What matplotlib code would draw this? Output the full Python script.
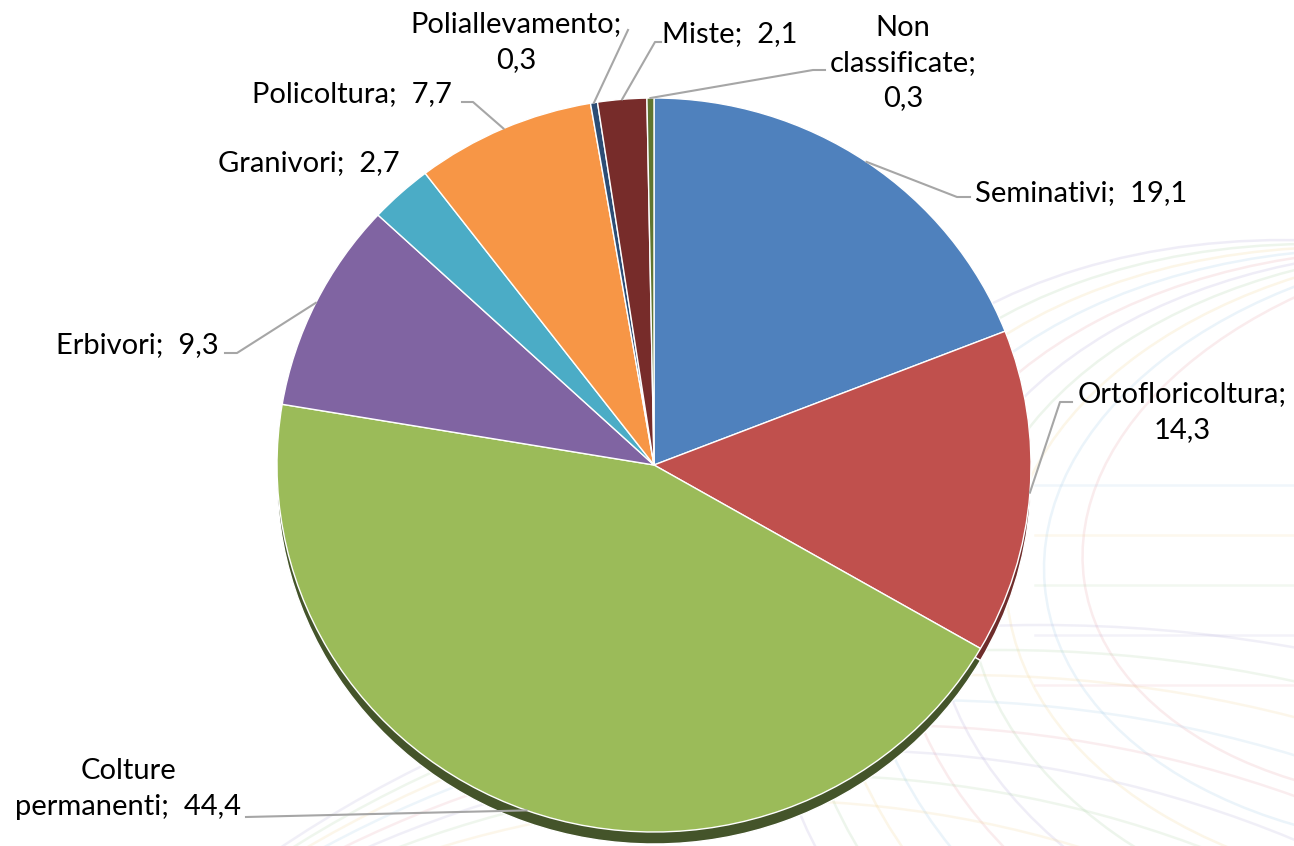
"""Pie chart: aziende per orientamento tecnico-economico (%)."""

import matplotlib
matplotlib.use("Agg")
import matplotlib.pyplot as plt
import numpy as np
from matplotlib.patches import Ellipse

plt.rcParams["font.family"] = ["Lato", "DejaVu Sans"]

# data
categories = ["Seminativi", "Ortofloricoltura", "Colture permanenti", "Erbivori",
              "Granivori", "Policoltura", "Poliallevamento", "Miste",
              "Non classificate"]
values = [19.1, 14.3, 44.4, 9.3, 2.7, 7.7, 0.3, 2.1, 0.3]
label_fmt = ["Seminativi;  {}", "Ortofloricoltura;\n{}", "Colture\npermanenti;  {}",
             "Erbivori;  {}", "Granivori;  {}", "Policoltura;  {}",
             "Poliallevamento;\n{}", "Miste;  {}", "Non\nclassificate;\n{}"]
colors = ["#4F81BD", "#C0504D", "#9BBB59", "#8064A2", "#4BACC6", "#F79646",
          "#2C4D75", "#772C2A", "#5F7530"]
side_colors = ["#2F4E74", "#6E2D2B", "#44542A", "#4A3A60", "#2C6677", "#94592A",
               "#1A2E46", "#471A19", "#39461C"]

# layout (pixels)
W, H = 1294, 846
cx, cy, rx, ry = 654, 465, 377, 367
depth = 12
label_pos = [(1081, 193), (1182, 412), (128, 789), (137, 345), (309, 163),
             (352, 94), (516, 42), (730, 34), (903, 63)]
# leader line elbow points (None = no leader)
elbows = [[(957, 197), (970, 197)],
          [(1060, 402), (1072, 402)],
          [(246, 817)],
          [(237, 353), (225, 353)],
          None,
          [(473, 102), (462, 102)],
          [(628, 30)],
          [(655, 42), (661, 42)],
          [(813, 70), (825, 70)]]

fig = plt.figure(figsize=(W / 100, H / 100), dpi=100)
bg = fig.add_axes([0, 0, 1, 1])
bg.set_xlim(0, W)
bg.set_ylim(H, 0)
bg.axis("off")

# faint decorative background arcs
pastel = ["#E8A0A8", "#9CC8E8", "#F2D28C", "#A8D0A0", "#B0A8D8"]
for i in range(10):
    c = pastel[i % len(pastel)]
    bg.add_patch(Ellipse((1520 - 12 * i, 520 + 25 * i), 880 + 50 * i, 560 + 45 * i,
                         angle=-8 + 3 * i, fill=False, ec=c, lw=1.8, alpha=0.2))
for i in range(8):
    c = pastel[(i + 2) % len(pastel)]
    bg.add_patch(Ellipse((760 + 40 * i, 1700 - 10 * i), 2000 + 60 * i, 1800 + 30 * i,
                         fill=False, ec=c, lw=1.8, alpha=0.18))
for i in range(5):
    c = pastel[(i + 1) % len(pastel)]
    bg.plot([1035, W], [485 + 50 * i, 485 + 50 * i], color=c, lw=1.8, alpha=0.15)


def pie_axes(dy, cols, z):
    ax = fig.add_axes([(cx - rx) / W, (H - (cy + dy + ry)) / H,
                       2 * rx / W, 2 * ry / H], zorder=z)
    wedges, _ = ax.pie(values, colors=cols, startangle=90, counterclock=False,
                       radius=1, wedgeprops=dict(edgecolor="white", linewidth=1))
    ax.set_aspect("auto")
    ax.set_xlim(-1, 1)
    ax.set_ylim(-1, 1)
    ax.axis("off")
    return wedges


pie_axes(depth, side_colors, 1)
wedges = pie_axes(0, colors, 2)

# overlay for labels and leader lines
ov = fig.add_axes([0, 0, 1, 1], zorder=3)
ov.set_xlim(0, W)
ov.set_ylim(H, 0)
ov.axis("off")

for w, v, fmt, pos, elb in zip(wedges, values, label_fmt, label_pos, elbows):
    mid = np.deg2rad((w.theta1 + w.theta2) / 2)
    px, py = cx + rx * np.cos(mid), cy - ry * np.sin(mid)
    if elb is not None:
        xs = [px] + [p[0] for p in elb]
        ys = [py] + [p[1] for p in elb]
        ov.plot(xs, ys, color="#A6A6A6", lw=1.5)
    txt = fmt.format(f"{v:.1f}".replace(".", ","))
    ov.text(pos[0], pos[1], txt, ha="center", va="center", fontsize=21,
            color="black", linespacing=1.45)

fig.savefig("out.png", dpi=100)
